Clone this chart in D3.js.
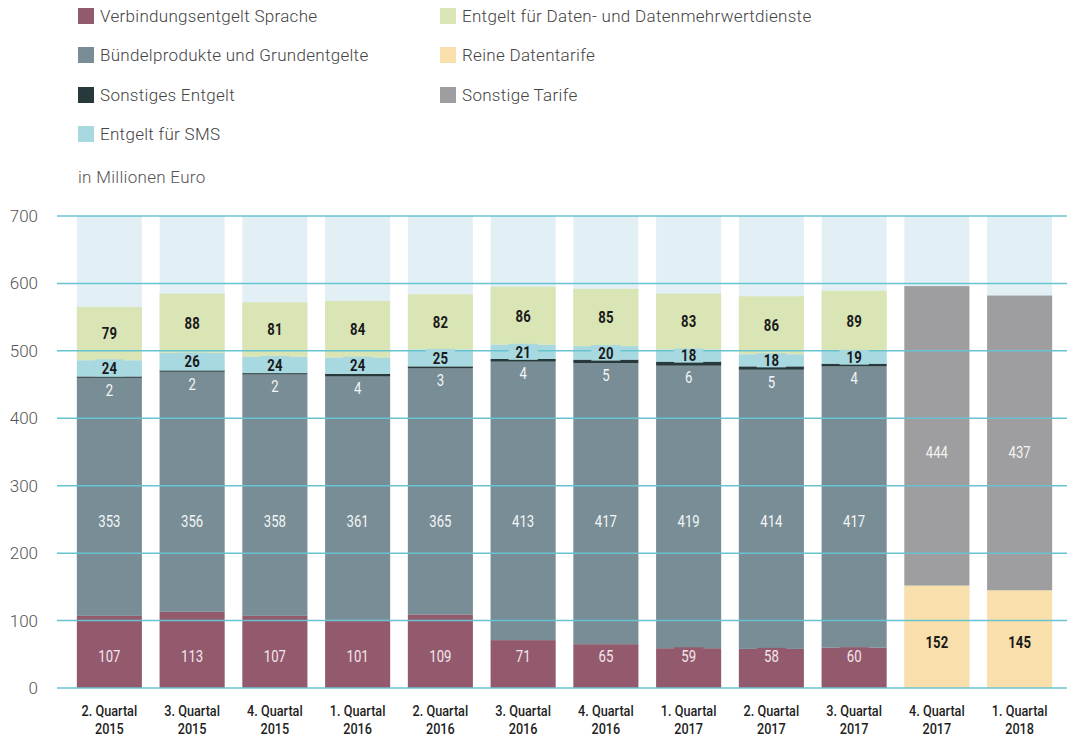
<!DOCTYPE html>
<html><head><meta charset="utf-8">
<script src="https://cdn.jsdelivr.net/npm/d3@7"></script>
<style>body{margin:0;background:#fff}svg{display:block}</style>
</head><body><svg id="c" width="1067" height="738"></svg>
<script>
const categories = [["2. Quartal","2015"],["3. Quartal","2015"],["4. Quartal","2015"],["1. Quartal","2016"],["2. Quartal","2016"],["3. Quartal","2016"],["4. Quartal","2016"],["1. Quartal","2017"],["2. Quartal","2017"],["3. Quartal","2017"],["4. Quartal","2017"],["1. Quartal","2018"]];
const sprache   = [107,113,107,101,109,71,65,59,58,60,0,0];
const buendel   = [353,356,358,361,365,413,417,419,414,417,0,0];
const sonstiges = [2,2,2,4,3,4,5,6,5,4,0,0];
const sms       = [24,26,24,24,25,21,20,18,18,19,0,0];
const daten     = [79,88,81,84,82,86,85,83,86,89,0,0];
const reine     = [0,0,0,0,0,0,0,0,0,0,152,145];
const sonstTarife = [0,0,0,0,0,0,0,0,0,0,444,437];
const yTicks = [0,100,200,300,400,500,600,700];
const seriesNames = ["Verbindungsentgelt Sprache","Bündelprodukte und Grundentgelte","Sonstiges Entgelt","Entgelt für SMS","Entgelt für Daten- und Datenmehrwertdienste","Reine Datentarife","Sonstige Tarife"];
const unitLabel = "in Millionen Euro";

const colors = ["#935a6e","#788d95","#28393c","#a8d8e0","#dae5b6","#f9dfab","#9e9d9f"];
const labelFill = ["#f3e6ea","#f4f6f7","#f4f6f7","#1a1a1a","#1a1a1a","#1a1a1a","#f4f4f4"];
const labelBold = [false,false,false,true,true,true,false];
const seriesData = [sprache,buendel,sonstiges,sms,daten,reine,sonstTarife];

const svg = d3.select("#c");
const x = d3.scaleBand().domain(d3.range(categories.length)).range([68,1061]).paddingInner(0.214).paddingOuter(0.107);
const y = d3.scaleLinear().domain([0,700]).range([688,216]);

// background bars
svg.append("g").selectAll("rect").data(categories).join("rect")
  .attr("x",(d,i)=>x(i)).attr("width",x.bandwidth())
  .attr("y",y(700)).attr("height",y(0)-y(700)).attr("fill","#e2f0f5");

// stack
const rows = categories.map((c,i)=>{const o={i}; seriesData.forEach((s,k)=>o[k]=s[i]); return o;});
const stack = d3.stack().keys(d3.range(seriesData.length))(rows);

const gBars = svg.append("g");
stack.forEach((layer,k)=>{
  gBars.append("g").selectAll("rect").data(layer.filter(d=>d[1]-d[0]>0)).join("rect")
    .attr("x",d=>x(d.data.i)).attr("width",x.bandwidth())
    .attr("y",d=>y(d[1])).attr("height",d=>y(d[0])-y(d[1]))
    .attr("fill",colors[k]);
});

// gridlines over bars
svg.append("g").selectAll("line").data(yTicks).join("line")
  .attr("x1",57).attr("x2",1067).attr("y1",d=>y(d)).attr("y2",d=>y(d))
  .attr("stroke","#68c3d1").attr("stroke-width",1.5);

// y axis labels
svg.append("g").selectAll("text").data(yTicks).join("text")
  .attr("x",38).attr("y",d=>y(d)).attr("dy","0.35em").attr("text-anchor","end")
  .attr("font-family","Roboto, 'Liberation Sans', sans-serif").attr("font-weight",300)
  .attr("font-size",17).attr("fill","#555").text(d=>d);

// value labels
const gLab = svg.append("g");
function valueLabel(cx, cy, txt, k, bg, top, bottom){
  const w = txt.length*7.6 + 14;
  const y0 = Math.max(top, cy-9), y1 = Math.min(bottom, cy+8);
  if(y1>y0) gLab.append("rect").attr("x",cx-w/2).attr("y",y0).attr("width",w).attr("height",y1-y0).attr("fill",bg);
  gLab.append("text")
    .attr("transform",`translate(${cx},${cy}) scale(0.82,1)`)
    .attr("text-anchor","middle").attr("dy","0.36em")
    .attr("font-family","Roboto, 'Liberation Sans', sans-serif")
    .attr("font-weight",labelBold[k]?700:400).attr("font-size",16)
    .attr("fill",labelFill[k]).text(txt);
}
stack.forEach((layer,k)=>{
  layer.forEach(d=>{
    const v = d[1]-d[0]; if(v<=0) return;
    const cx = x(d.data.i)+x.bandwidth()/2;
    let cy, top = y(d[1])-1, bottom = y(d[0])+1, bg = colors[k];
    if(k===0) cy = y(47);
    else if(k===1) cy = y(248);
    else if(k===2){ cy = y(d[0]) + 12; bg = colors[1]; top = y(d[0])+1; bottom = y(sprache[d.data.i]); }
    else if(k===5) cy = y(68);
    else if(k===6) cy = y(350);
    else cy = (y(d[0])+y(d[1]))/2;
    valueLabel(cx, cy, String(v), k, bg, top, bottom);
  });
});

// x labels
const gx = svg.append("g");
categories.forEach((c,i)=>{
  const cx = x(i)+x.bandwidth()/2;
  const t = gx.append("text").attr("transform",`translate(${cx},711) scale(0.82,1)`)
    .attr("text-anchor","middle")
    .attr("font-family","Roboto, 'Liberation Sans', sans-serif").attr("font-weight",500)
    .attr("font-size",15.5).attr("fill","#1e1e1e");
  c.forEach((s,j)=>{
    t.append("tspan").attr("x",0).attr("y",j*17.5).attr("dy","0.35em").text(s);
  });
});

// legend
const legendPos = [[78,16],[78,55],[78,95],[78,134],[440,16],[440,55],[440,95]];
const gL = svg.append("g");
seriesNames.forEach((n,k)=>{
  const [lx,ly] = legendPos[k];
  gL.append("rect").attr("x",lx).attr("y",ly-8).attr("width",16).attr("height",16).attr("fill",colors[k]);
  gL.append("text").attr("x",lx+22).attr("y",ly).attr("dy","0.35em")
    .attr("font-family","Roboto, 'Liberation Sans', sans-serif").attr("font-weight",300)
    .attr("font-size",17).attr("letter-spacing",0.3).attr("fill","#444").text(n);
});
svg.append("text").attr("x",78).attr("y",177).attr("dy","0.35em")
  .attr("font-family","Roboto, 'Liberation Sans', sans-serif").attr("font-weight",300)
  .attr("font-size",17).attr("letter-spacing",0.3).attr("fill","#555").text(unitLabel);
</script></body></html>
